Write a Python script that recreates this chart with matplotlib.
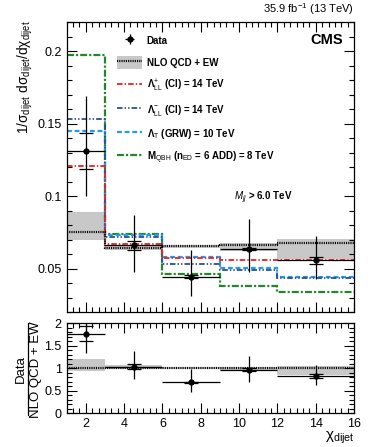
import numpy as np
import matplotlib
matplotlib.use('Agg')
from matplotlib import pyplot as plt
from matplotlib.patches import Patch
from matplotlib.lines import Line2D
from matplotlib.ticker import MultipleLocator, FixedLocator

plt.rcParams['font.family'] = ['Liberation Sans', 'DejaVu Sans']
plt.rcParams['mathtext.fontset'] = 'custom'
plt.rcParams['mathtext.rm'] = 'Liberation Sans'
plt.rcParams['mathtext.it'] = 'Liberation Sans:italic'
plt.rcParams['mathtext.bf'] = 'Liberation Sans:bold'
plt.rcParams['lines.scale_dashes'] = False

# chi_dijet bins
edges = [1, 3, 6, 9, 12, 16]
centers = [2, 4.5, 7.5, 10.5, 14]
half_width = [1, 1.5, 1.5, 1.5, 2]

# measured normalized distribution
data = [0.131, 0.0661, 0.0446, 0.0636, 0.0558]
data_hi = [0.169, 0.087, 0.063, 0.0845, 0.0725]
data_lo = [0.100, 0.048, 0.031, 0.0477, 0.0427]
stat_hi = [0.1436, 0.069, 0.0454, 0.0645, 0.0583]
stat_lo = [0.119, 0.063, 0.0438, 0.0627, 0.0532]

# NLO QCD + EW prediction and uncertainty band
theory = [0.0752, 0.0645, 0.0656, 0.0663, 0.068]
theory_hi = [0.089, 0.066, 0.0666, 0.068, 0.0707]
theory_lo = [0.0697, 0.0628, 0.0646, 0.0622, 0.0565]

# new physics models
ci_plus = [0.1206, 0.0668, 0.0576, 0.0563, 0.0563]
ci_minus = [0.1534, 0.072, 0.0535, 0.0489, 0.0440]
grw = [0.1447, 0.0735, 0.0583, 0.0503, 0.0443]
qbh = [0.1975, 0.0743, 0.0462, 0.0381, 0.0342]

# ratio panel
ratio = [1.76, 1.03, 0.68, 0.96, 0.83]
ratio_hi = [2.25, 1.37, 0.97, 1.27, 1.07]
ratio_lo = [1.33, 0.76, 0.46, 0.70, 0.63]
ratio_stat_hi = [1.93, 1.08, 0.70, 0.99, 0.87]
ratio_stat_lo = [1.59, 0.98, 0.66, 0.93, 0.78]
ratio_band_hi = [1.19, 1.06, 1.02, 1.02, 1.05]
ratio_band_lo = [0.93, 0.97, 0.98, 0.94, 0.84]

red = '#e8221e'
darkblue = '#2c4f86'
lightblue = '#1f9bf0'
green = '#23862a'
band = '#c8c8c8'

fig = plt.figure(figsize=(3.74, 4.47), dpi=100)
ax = fig.add_axes([0.178, 0.3013, 0.769, 0.6488])
rax = fig.add_axes([0.178, 0.076, 0.769, 0.2013])

# upper panel
ax.stairs(theory_hi, edges, baseline=theory_lo, fill=True, color=band, lw=0)
ax.stairs(qbh, edges, baseline=None, color=green, lw=1.6, ls=(0, (5, 1.5, 1.5, 1.5)))
ax.stairs(grw, edges, baseline=None, color=lightblue, lw=1.6, ls=(0, (3.5, 2)))
ax.stairs(ci_minus, edges, baseline=None, color=darkblue, lw=1.3, ls=(0, (4, 1.5, 1, 1.5, 1, 1.5)))
ax.stairs(ci_plus, edges, baseline=None, color=red, lw=1.3, ls=(0, (4, 1.5, 1, 1.5)))
ax.stairs(theory, edges, baseline=None, color='black', lw=1.6, ls=(0, (0.8, 0.8)))

yerr = [np.subtract(data, data_lo), np.subtract(data_hi, data)]
eb = ax.errorbar(centers, data, xerr=half_width, yerr=yerr, fmt='o', color='black',
                 ms=3.5, elinewidth=0.9, capsize=0)
ax.errorbar(centers, data, yerr=[np.subtract(data, stat_lo), np.subtract(stat_hi, data)],
            fmt='none', ecolor='black', elinewidth=0, capsize=5, capthick=0.9)

ax.set_xlim(1, 16)
ax.set_ylim(0.02, 0.22)
ax.yaxis.set_major_locator(FixedLocator([0.05, 0.1, 0.15, 0.2]))
ax.yaxis.set_minor_locator(MultipleLocator(0.01))
ax.yaxis.set_major_formatter(matplotlib.ticker.FuncFormatter(lambda v, p: '%g' % v))

handles = [eb,
           (Patch(color=band, lw=0), Line2D([], [], color='black', lw=1.6, ls=(0, (0.8, 0.8)))),
           Line2D([], [], color=red, lw=1.3, ls=(0, (4, 1.5, 1, 1.5))),
           Line2D([], [], color=darkblue, lw=1.3, ls=(0, (4, 1.5, 1, 1.5, 1, 1.5))),
           Line2D([], [], color=lightblue, lw=1.6, ls=(0, (3.5, 2))),
           Line2D([], [], color=green, lw=1.6, ls=(0, (5, 1.5, 1.5, 1.5)))]
labels = ['Data', 'NLO QCD + EW',
          'Λ$^{+}_{\\mathrm{LL}}$ (CI) = 14 TeV',
          'Λ$^{-}_{\\mathrm{LL}}$ (CI) = 14 TeV',
          'Λ$_{\\mathrm{T}}$ (GRW) = 10 TeV',
          'M$_{\\mathrm{QBH}}$ (n$_{\\mathrm{ED}}$ = 6 ADD) = 8 TeV']
ax.legend(handles, labels, loc='upper left', bbox_to_anchor=(0.175, 0.96), frameon=False,
          prop={'weight': 'bold', 'size': 7}, handlelength=2.6, handleheight=1.75,
          labelspacing=0.89, handletextpad=0.45, borderpad=0, borderaxespad=0)

ax.text(0.96, 0.94, 'CMS', transform=ax.transAxes, ha='right', va='center',
        fontsize=10.5, fontweight='bold')
ax.text(0.685, 0.395, '$M_{jj}$ > 6.0 TeV', transform=ax.transAxes, ha='center', va='center',
        fontsize=7, fontweight='bold')
fig.text(0.947, 0.962, '35.9 fb$^{-1}$ (13 TeV)', ha='right', va='bottom', fontsize=8)
fig.text(0.067, 0.955, '1/σ$_{\\mathrm{dijet}}$ dσ$_{\\mathrm{dijet}}$/dχ$_{\\mathrm{dijet}}$',
         rotation=90, ha='center', va='top', fontsize=9.8)

# ratio panel
rax.stairs(ratio_band_hi, edges, baseline=ratio_band_lo, fill=True, color=band, lw=0)
rax.axhline(1, color='black', lw=1.6, ls=(0, (0.8, 0.8)))
ryerr = [np.subtract(ratio, ratio_lo), np.subtract(ratio_hi, ratio)]
rax.errorbar(centers, ratio, xerr=half_width, yerr=ryerr, fmt='o', color='black',
             ms=3.5, elinewidth=0.9, capsize=0)
rax.errorbar(centers, ratio, yerr=[np.subtract(ratio, ratio_stat_lo), np.subtract(ratio_stat_hi, ratio)],
             fmt='none', ecolor='black', elinewidth=0, capsize=5, capthick=0.9)
rax.set_xlim(1, 16)
rax.set_ylim(0, 2)
rax.yaxis.set_major_locator(MultipleLocator(0.5))
rax.yaxis.set_minor_locator(MultipleLocator(0.1))
rax.yaxis.set_major_formatter(matplotlib.ticker.FuncFormatter(lambda v, p: '%g' % v))
rax.set_xlabel('χ$_{\\mathrm{dijet}}$', fontsize=11, loc='right', labelpad=0)

fig.text(0.056, 0.174, 'Data', rotation=90, ha='center', va='center', fontsize=9.5)
fig.text(0.097, 0.174, 'NLO QCD + EW', rotation=90, ha='center', va='center', fontsize=9.5)
fig.add_artist(Line2D([0.075, 0.075], [0.072, 0.278], color='black', lw=0.9))

for a in (ax, rax):
    a.xaxis.set_major_locator(MultipleLocator(2))
    a.xaxis.set_minor_locator(FixedLocator(np.arange(4, 48) / 3.0))
    a.tick_params(which='both', direction='in', top=True, right=True, labelsize=9, width=0.8)
    a.tick_params(which='major', length=7)
    a.tick_params(which='minor', length=3.5)
    for s in a.spines.values():
        s.set_linewidth(0.9)
ax.tick_params(labelbottom=False)

fig.savefig('out.png', dpi=100)
